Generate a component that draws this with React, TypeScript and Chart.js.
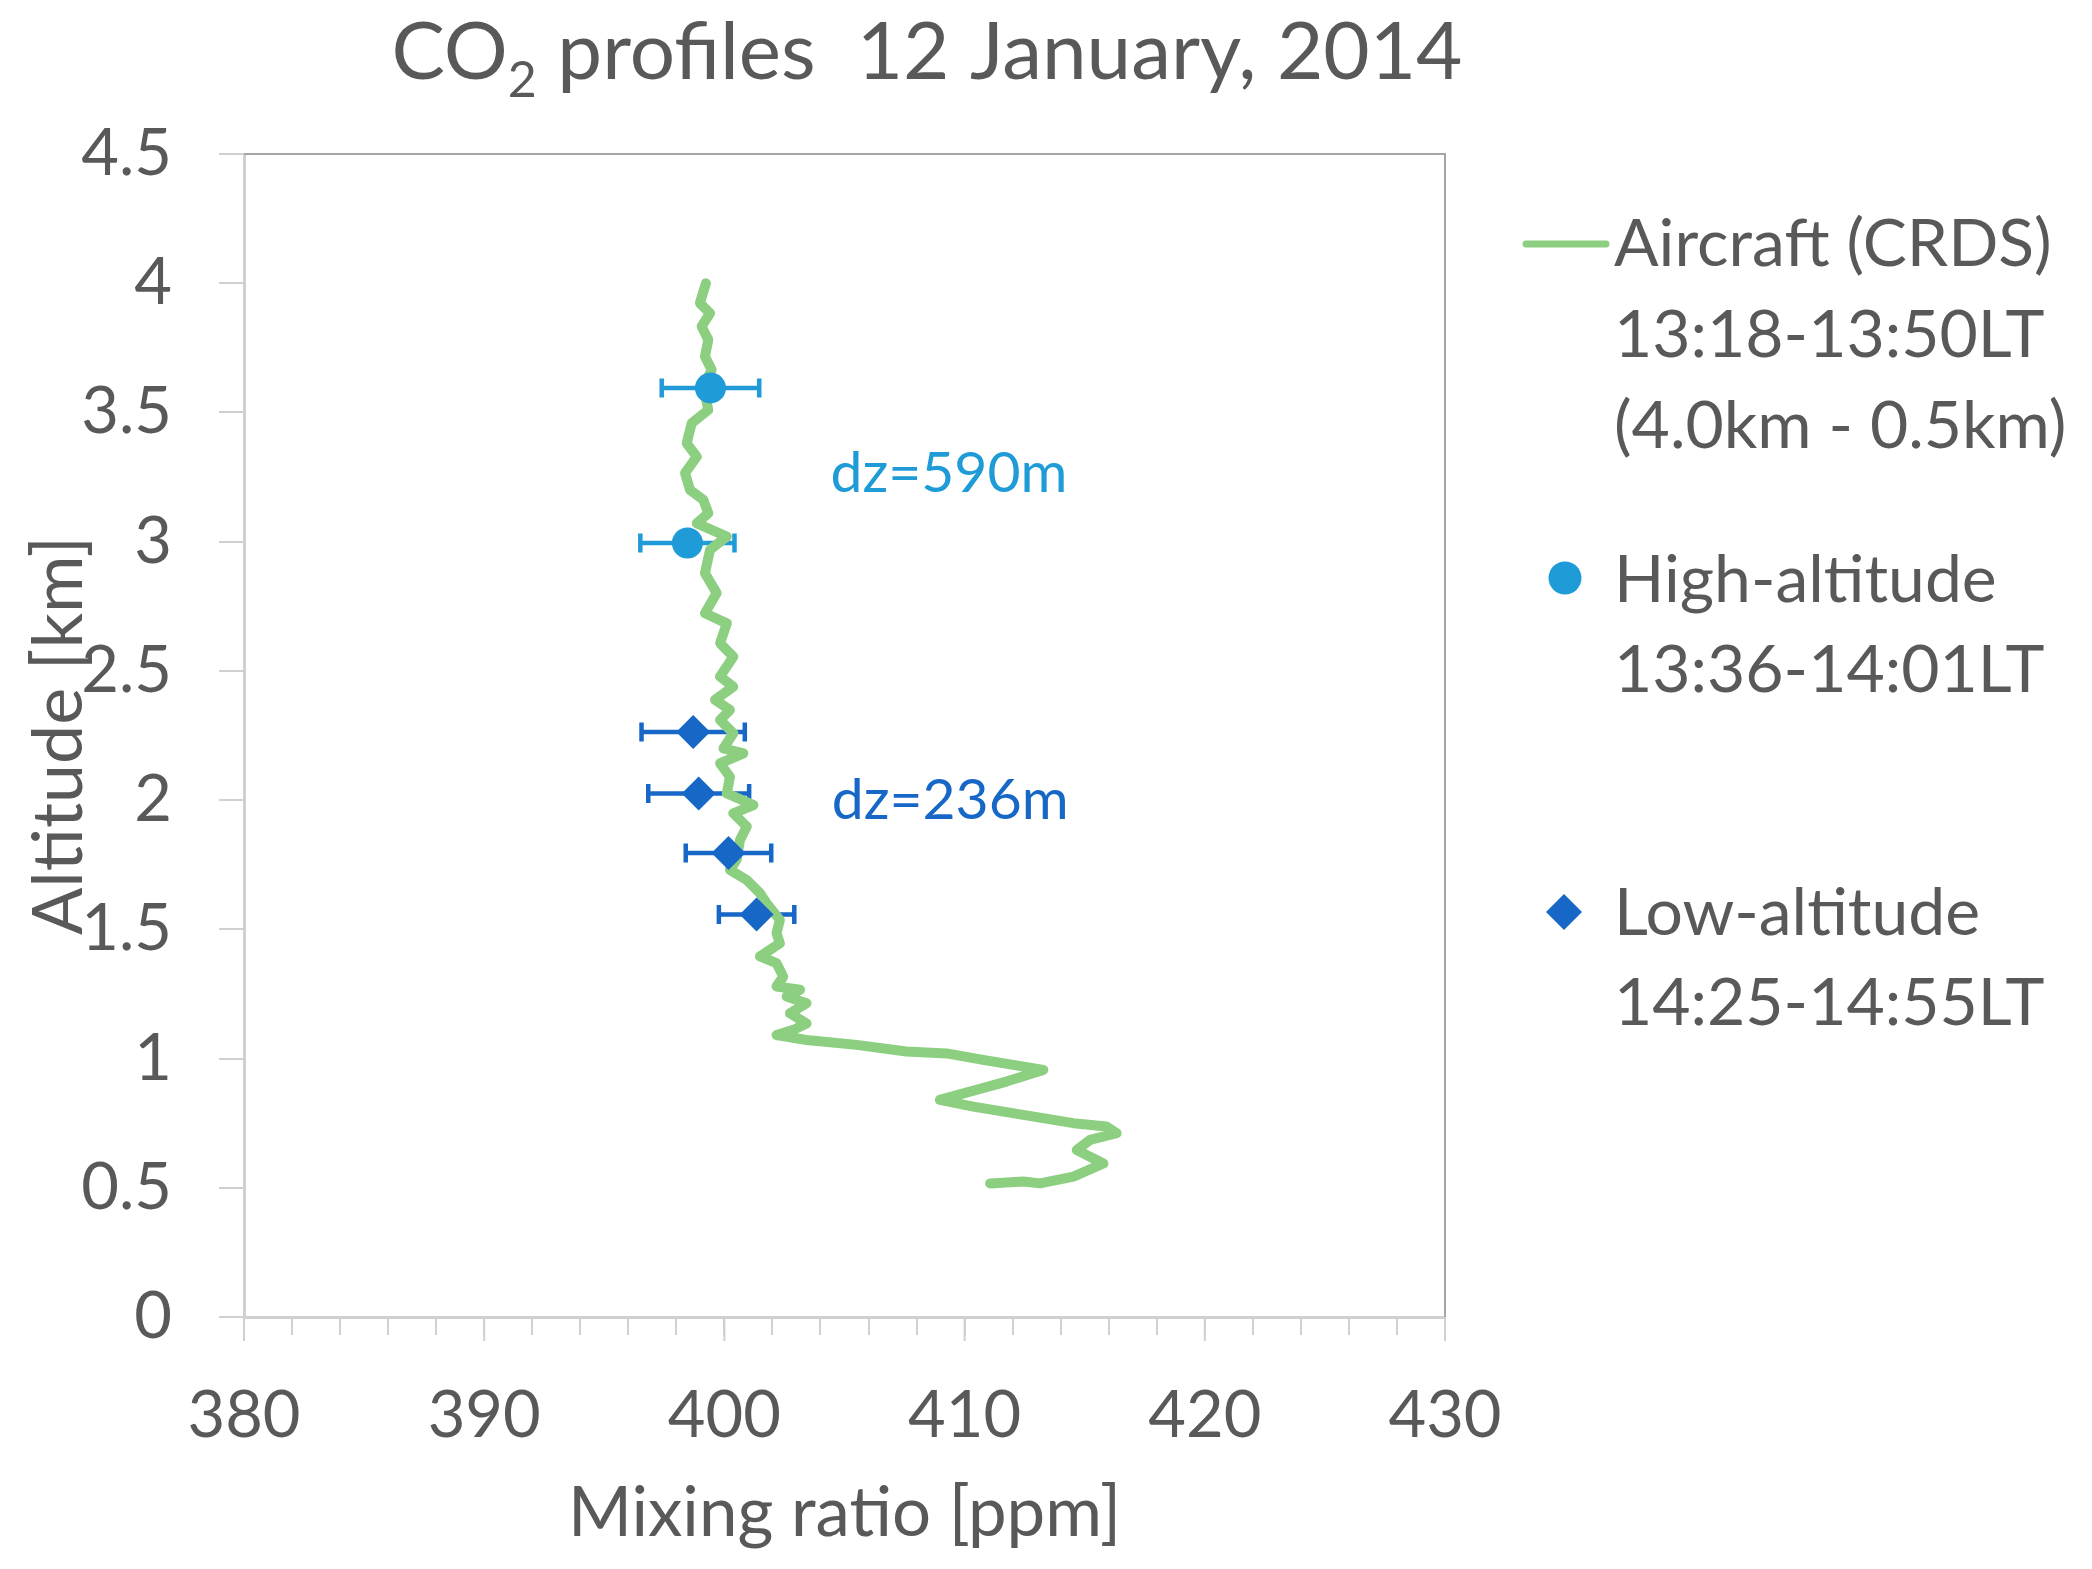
import React, { useEffect, useRef } from "react";
import { Chart, registerables } from "chart.js";

Chart.register(...registerables);

const aircraftPpm = [
  399.23, 398.98, 399.4, 399.05, 399.33, 399.19, 399.47, 399.12, 399.33, 398.64,
  398.43, 398.85, 398.36, 398.57, 399.12, 399.33, 398.85, 400.1, 399.4, 399.19,
  399.68, 399.19, 400.1, 399.82, 400.37, 399.82, 400.37, 399.61, 400.23, 399.82,
  400.37, 399.96, 400.79, 399.82, 400.23, 400.1, 401.21, 400.37, 400.93, 400.65,
  400.51, 400.23, 400.93, 401.48, 401.76, 402.31, 402.17, 402.31, 401.48, 402.17,
  402.45, 402.17, 403.15, 402.59, 403.42, 402.73, 403.42, 402.87, 402.17, 403.42,
  405.5, 407.58, 409.25, 410.77, 413.28, 411.74, 408.97, 410.36, 412.44, 414.53,
  415.9, 416.33, 415.22, 414.67, 415.22, 415.78, 414.53, 413.14, 412.44, 411.06,
];
const aircraftKm = [
  4.0, 3.923, 3.884, 3.833, 3.781, 3.716, 3.665, 3.6, 3.51, 3.459,
  3.381, 3.329, 3.265, 3.2, 3.162, 3.11, 3.071, 3.02, 2.968, 2.878,
  2.801, 2.723, 2.684, 2.607, 2.555, 2.478, 2.439, 2.388, 2.349, 2.31,
  2.259, 2.2, 2.181, 2.142, 2.09, 2.026, 1.981, 1.949, 1.898, 1.846,
  1.769, 1.73, 1.691, 1.64, 1.601, 1.536, 1.485, 1.446, 1.395, 1.369,
  1.317, 1.279, 1.266, 1.24, 1.214, 1.175, 1.136, 1.111, 1.091, 1.072,
  1.053, 1.027, 1.02, 0.995, 0.956, 0.911, 0.84, 0.814, 0.782, 0.75,
  0.737, 0.711, 0.685, 0.646, 0.62, 0.594, 0.543, 0.517, 0.524, 0.517,
];

const highPpm = [399.42, 398.46];
const highKm = [3.595, 2.995];
const highErr = [2.03, 1.96];

const lowPpm = [398.7, 398.93, 400.17, 401.34];
const lowKm = [2.264, 2.026, 1.795, 1.557];
const lowErr = [2.15, 2.1, 1.78, 1.57];

const legendAircraft = ["Aircraft (CRDS)", "13:18-13:50LT", "(4.0km - 0.5km)"];
const legendHigh = ["High-altitude", "13:36-14:01LT"];
const legendLow = ["Low-altitude", "14:25-14:55LT"];

const GREEN = "#8dcf80";
const HIGH_BLUE = "#1f9bd7";
const LOW_BLUE = "#1767c7";
const TEXT = "#595959";
const FONT = "Lato";

const errorBars = {
  id: "errorBars",
  beforeDatasetsDraw(chart: any) {
    const { ctx, scales } = chart;
    chart.data.datasets.forEach((ds: any) => {
      if (!ds.errorColor) return;
      ds.data.forEach((p: any) => {
        const y = scales.y.getPixelForValue(p.y);
        const x0 = scales.x.getPixelForValue(p.x - p.xErr);
        const x1 = scales.x.getPixelForValue(p.x + p.xErr);
        ctx.save();
        ctx.strokeStyle = ds.errorColor;
        ctx.lineWidth = 4.5;
        ctx.beginPath();
        ctx.moveTo(x0, y);
        ctx.lineTo(x1, y);
        ctx.moveTo(x0, y - 9.5);
        ctx.lineTo(x0, y + 9.5);
        ctx.moveTo(x1, y - 9.5);
        ctx.lineTo(x1, y + 9.5);
        ctx.stroke();
        ctx.restore();
      });
    });
  },
};

const decorations = {
  id: "decorations",
  beforeDatasetsDraw(chart: any) {
    const { ctx, chartArea: a, scales } = chart;
    ctx.save();
    // top and right frame of the plot area
    ctx.strokeStyle = "#a6a6a6";
    ctx.lineWidth = 2;
    ctx.beginPath();
    ctx.moveTo(a.left, a.top);
    ctx.lineTo(a.right, a.top);
    ctx.lineTo(a.right, a.bottom);
    ctx.stroke();
    // longer major ticks on the x axis
    ctx.strokeStyle = "#d0d0d0";
    ctx.lineWidth = 2;
    for (let v = 380; v <= 430; v += 10) {
      const x = scales.x.getPixelForValue(v);
      ctx.beginPath();
      ctx.moveTo(x, a.bottom);
      ctx.lineTo(x, a.bottom + 24);
      ctx.stroke();
    }
    ctx.restore();
  },
  afterDraw(chart: any) {
    const { ctx, scales } = chart;
    ctx.save();
    ctx.fillStyle = TEXT;

    // title with subscript
    const big = `80px ${FONT}`;
    const small = `50px ${FONT}`;
    ctx.font = big;
    const wCO = ctx.measureText("CO").width;
    const rest = " profiles  12 January, 2014";
    const wRest = ctx.measureText(rest).width;
    ctx.font = small;
    const w2 = ctx.measureText("2").width;
    const total = wCO + w2 + wRest;
    let x = 927 - total / 2;
    ctx.textBaseline = "alphabetic";
    ctx.textAlign = "left";
    ctx.font = big;
    ctx.fillText("CO", x, 79);
    x += wCO;
    ctx.font = small;
    ctx.fillText("2", x, 97);
    x += w2;
    ctx.font = big;
    ctx.fillText(rest, x, 79);

    // legend
    ctx.font = `66px ${FONT}`;
    ctx.strokeStyle = GREEN;
    ctx.lineWidth = 7;
    ctx.lineCap = "round";
    ctx.beginPath();
    ctx.moveTo(1526, 244);
    ctx.lineTo(1606, 244);
    ctx.stroke();
    legendAircraft.forEach((t, i) => ctx.fillText(t, 1614, 266 + i * 91));

    ctx.fillStyle = HIGH_BLUE;
    ctx.beginPath();
    ctx.arc(1565, 578, 16.5, 0, Math.PI * 2);
    ctx.fill();
    ctx.fillStyle = TEXT;
    legendHigh.forEach((t, i) => ctx.fillText(t, 1614, 602 + i * 90));

    ctx.fillStyle = LOW_BLUE;
    ctx.beginPath();
    ctx.moveTo(1564, 894);
    ctx.lineTo(1582, 912);
    ctx.lineTo(1564, 930);
    ctx.lineTo(1546, 912);
    ctx.closePath();
    ctx.fill();
    ctx.fillStyle = TEXT;
    legendLow.forEach((t, i) => ctx.fillText(t, 1614, 935 + i * 90));

    // dz annotations
    ctx.font = `57px ${FONT}`;
    ctx.textBaseline = "middle";
    ctx.fillStyle = HIGH_BLUE;
    ctx.fillText("dz=590m", scales.x.getPixelForValue(404.42), scales.y.getPixelForValue(3.265));
    ctx.fillStyle = LOW_BLUE;
    ctx.fillText("dz=236m", scales.x.getPixelForValue(404.47), scales.y.getPixelForValue(1.999));
    ctx.restore();
  },
};

const ProfileChart: React.FC = () => {
  const chartRef = useRef<HTMLCanvasElement | null>(null);

  useEffect(() => {
    if (!chartRef.current) return;

    const chart = new Chart(chartRef.current, {
      type: "scatter",
      data: {
        datasets: [
          {
            label: "High-altitude",
            data: highPpm.map((x, i) => ({ x, y: highKm[i], xErr: highErr[i] })),
            backgroundColor: HIGH_BLUE,
            borderColor: HIGH_BLUE,
            pointStyle: "circle",
            pointRadius: 15.5,
            pointBorderWidth: 0,
            errorColor: HIGH_BLUE,
            order: 1,
          } as any,
          {
            label: "Low-altitude",
            data: lowPpm.map((x, i) => ({ x, y: lowKm[i], xErr: lowErr[i] })),
            backgroundColor: LOW_BLUE,
            borderColor: LOW_BLUE,
            pointStyle: "rectRot",
            pointRadius: 17,
            pointBorderWidth: 0,
            errorColor: LOW_BLUE,
            order: 2,
          } as any,
          {
            label: "Aircraft (CRDS)",
            data: aircraftPpm.map((x, i) => ({ x, y: aircraftKm[i] })),
            showLine: true,
            borderColor: GREEN,
            backgroundColor: GREEN,
            borderWidth: 10,
            borderJoinStyle: "round",
            borderCapStyle: "round",
            pointRadius: 0,
            tension: 0,
            order: 3,
          },
        ],
      },
      options: {
        animation: false,
        responsive: true,
        maintainAspectRatio: false,
        layout: { padding: { top: 154, right: 647, bottom: 0, left: 0 } },
        plugins: {
          legend: { display: false },
          title: { display: false },
          tooltip: { enabled: false },
        },
        scales: {
          x: {
            type: "linear",
            min: 380,
            max: 430,
            afterFit: (scale: any) => {
              scale.height = 252;
            },
            ticks: {
              stepSize: 2,
              autoSkip: false,
              maxRotation: 0,
              padding: 42,
              color: TEXT,
              font: { family: FONT, size: 65 },
              callback: (v: any) => (Number(v) % 10 === 0 ? String(v) : ""),
            },
            grid: {
              drawOnChartArea: false,
              drawTicks: true,
              tickLength: 18,
              color: "#d0d0d0",
              lineWidth: 2,
            },
            border: { color: "#d0d0d0", width: 3 },
            title: {
              display: true,
              text: "Mixing ratio [ppm]",
              color: TEXT,
              font: { family: FONT, size: 69 },
              padding: { top: 0, bottom: 14 },
            },
          },
          y: {
            type: "linear",
            min: 0,
            max: 4.5,
            afterFit: (scale: any) => {
              scale.width = 244;
            },
            ticks: {
              stepSize: 0.5,
              padding: 47,
              color: TEXT,
              font: { family: FONT, size: 65 },
              callback: (v: any) => String(Number(v)),
            },
            grid: {
              drawOnChartArea: false,
              drawTicks: true,
              tickLength: 25,
              color: "#d0d0d0",
              lineWidth: 2,
            },
            border: { color: "#d0d0d0", width: 3 },
            title: {
              display: true,
              text: "Altitude [km]",
              color: TEXT,
              font: { family: FONT, size: 70 },
              padding: { top: 17, bottom: 0 },
            },
          },
        },
      },
      plugins: [errorBars, decorations],
    });

    return () => {
      chart.destroy();
    };
  }, []);

  return (
    <div
      style={{
        position: "fixed",
        left: 0,
        top: 0,
        width: 2092,
        height: 1569,
        background: "#ffffff",
      }}
    >
      <canvas ref={chartRef} />
    </div>
  );
};

export default function App() {
  return <ProfileChart />;
}
